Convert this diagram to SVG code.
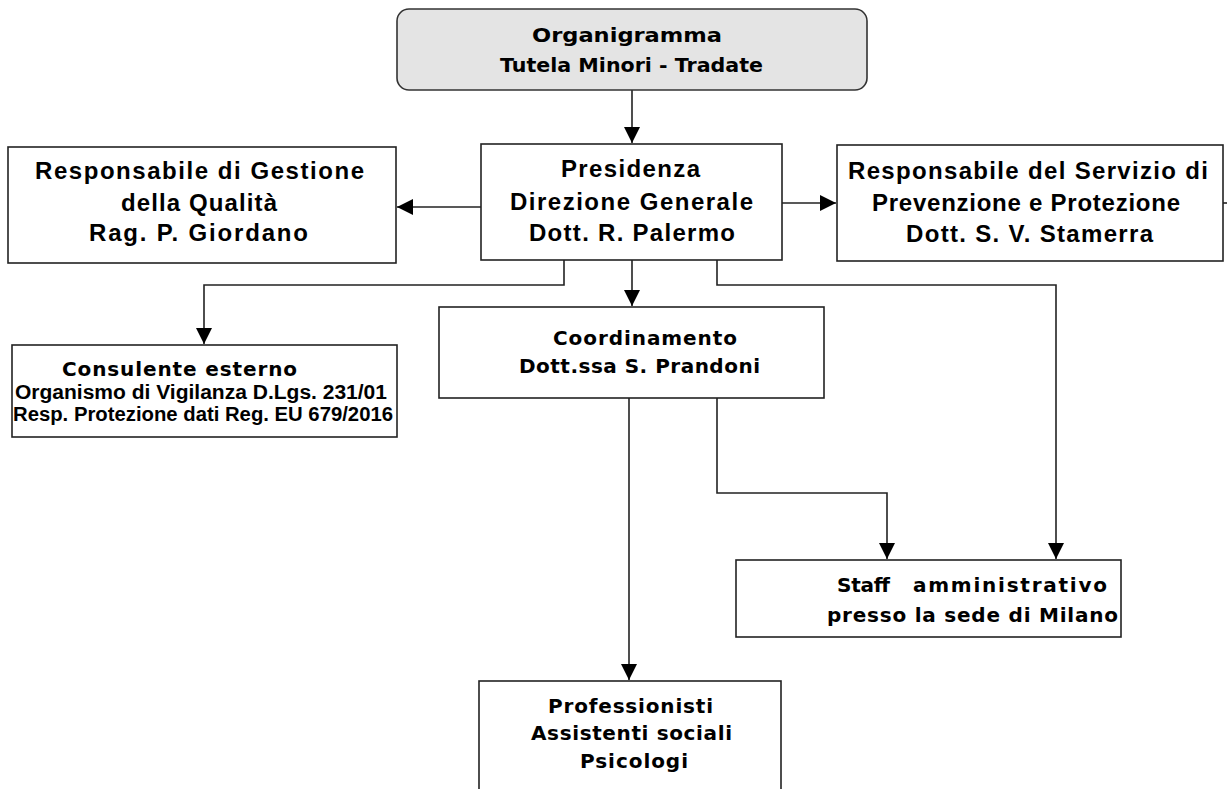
<svg xmlns="http://www.w3.org/2000/svg" width="1227" height="789" viewBox="0 0 1227 789">
<style>
.box{fill:#fff;stroke:#222;stroke-width:1.6}
.top{fill:#e4e4e4;stroke:#333;stroke-width:1.6}
.con{fill:none;stroke:#222;stroke-width:1.6}
.a{font-family:"Liberation Sans",Arial,sans-serif;font-weight:bold;font-size:24px;fill:#000}
.d{font-family:"DejaVu Sans",Verdana,sans-serif;font-weight:bold;font-size:20px;fill:#000}
.n{font-family:"Liberation Sans",Arial,sans-serif;font-weight:bold;font-size:20px;fill:#000}
</style>
<defs>
<marker id="arr" markerUnits="userSpaceOnUse" markerWidth="17" markerHeight="17" refX="16" refY="8" orient="auto">
<path d="M0,0 L16,8 L0,16 z" fill="#000"/>
</marker>
</defs>
<rect width="1227" height="789" fill="#fff"/>
<g id="connectors">
<path class="con" d="M632,90 V143" marker-end="url(#arr)"/>
<path class="con" d="M481,207 H397" marker-end="url(#arr)"/>
<path class="con" d="M782,203 H836" marker-end="url(#arr)"/>
<path class="con" d="M564,260 V285 H204 V344" marker-end="url(#arr)"/>
<path class="con" d="M632,260 V306" marker-end="url(#arr)"/>
<path class="con" d="M717,260 V285 H1056 V559" marker-end="url(#arr)"/>
<path class="con" d="M629,398 V680" marker-end="url(#arr)"/>
<path class="con" d="M717,398 V493 H887 V559" marker-end="url(#arr)"/>
<path class="con" d="M1223,203 H1227"/>
</g>
<g id="organigramma">
<rect class="top" x="397" y="9" width="470" height="81" rx="12"/>
<text class="d" x="532" y="42" font-size="22" textLength="190" lengthAdjust="spacingAndGlyphs">Organigramma</text>
<text class="d" x="500" y="72" font-size="21" textLength="263" lengthAdjust="spacingAndGlyphs">Tutela Minori - Tradate</text>
</g>
<g id="presidenza">
<rect class="box" x="481" y="144" width="301" height="116"/>
<text class="a" x="561" y="177" textLength="139" lengthAdjust="spacing">Presidenza</text>
<text class="a" x="510" y="210" textLength="243" lengthAdjust="spacing">Direzione Generale</text>
<text class="a" x="529" y="241" textLength="206" lengthAdjust="spacing">Dott. R. Palermo</text>
</g>
<g id="qualita">
<rect class="box" x="8" y="147" width="388" height="116"/>
<text class="a" x="35" y="179" textLength="329" lengthAdjust="spacing">Responsabile di Gestione</text>
<text class="a" x="121" y="211" textLength="156" lengthAdjust="spacing">della Qualità</text>
<text class="a" x="89" y="241" textLength="219" lengthAdjust="spacing">Rag. P. Giordano</text>
</g>
<g id="sicurezza">
<rect class="box" x="837" y="145" width="386" height="116"/>
<text class="a" x="848" y="179" textLength="360" lengthAdjust="spacing">Responsabile del Servizio di</text>
<text class="a" x="872" y="211" textLength="308" lengthAdjust="spacing">Prevenzione e Protezione</text>
<text class="a" x="906" y="242" textLength="247" lengthAdjust="spacing">Dott. S. V. Stamerra</text>
</g>
<g id="consulente">
<rect class="box" x="12" y="345" width="385" height="92"/>
<text class="d" x="62" y="376" textLength="235" lengthAdjust="spacing">Consulente esterno</text>
<text class="n" x="15" y="399" textLength="372" lengthAdjust="spacingAndGlyphs">Organismo di Vigilanza D.Lgs. 231/01</text>
<text class="n" x="13" y="421" textLength="380" lengthAdjust="spacingAndGlyphs">Resp. Protezione dati Reg. EU 679/2016</text>
</g>
<g id="coordinamento">
<rect class="box" x="439" y="307" width="385" height="91"/>
<text class="d" x="553" y="345" textLength="184" lengthAdjust="spacing">Coordinamento</text>
<text class="d" x="519" y="373" textLength="241" lengthAdjust="spacing">Dott.ssa S. Prandoni</text>
</g>
<g id="staff">
<rect class="box" x="736" y="560" width="385" height="77"/>
<text class="d" y="592"><tspan x="837" textLength="53" lengthAdjust="spacing">Staff</tspan><tspan x="913" textLength="194" lengthAdjust="spacing">amministrativo</tspan></text>
<text class="d" x="827" y="622" textLength="291" lengthAdjust="spacing">presso la sede di Milano</text>
</g>
<g id="professionisti">
<rect class="box" x="479" y="681" width="302" height="120"/>
<text class="d" x="548" y="713" textLength="165" lengthAdjust="spacing">Professionisti</text>
<text class="d" x="531" y="740" textLength="201" lengthAdjust="spacing">Assistenti sociali</text>
<text class="d" x="580" y="768" textLength="108" lengthAdjust="spacing">Psicologi</text>
</g>
</svg>
